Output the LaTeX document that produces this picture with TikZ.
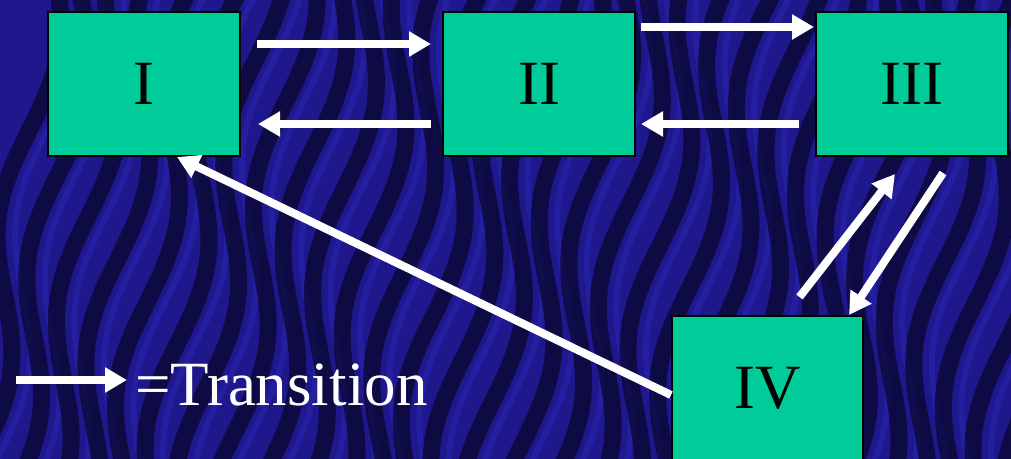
\documentclass[tikz,border=0pt]{standalone}
\usepackage{fontspec}
\setmainfont{Liberation Serif}
\usetikzlibrary{arrows.meta,calc}
\definecolor{boxgreen}{RGB}{0,204,153}
\definecolor{bgblue}{RGB}{30,24,140}
\definecolor{bgdark}{RGB}{3,2,20}
\definecolor{bglight}{RGB}{50,42,200}
\tikzset{
  statebox/.style={draw=black, line width=2pt, fill=boxgreen, minimum width=192pt, minimum height=144pt, inner sep=0pt, font=\fontsize{63}{70}\selectfont},
  trans/.style={draw=white, line width=8pt, -{Triangle[width=24pt,length=22pt]}},
  wave/.style={draw=bgdark, line width=17pt, opacity=0.6, line cap=round},
  glow/.style={draw=bglight, line width=6pt, opacity=0.35, line cap=round}
}
\begin{document}
\begin{tikzpicture}[x=1pt,y=1pt]
\useasboundingbox (0,0) rectangle (1011,458);
\clip (0,0) rectangle (1011,458);
% background texture
\fill[bgblue] (-10,-10) rectangle (1021,468);
\foreach \i in {0,...,30}{
  \draw[wave] plot[smooth, domain=-20:480, samples=25] ({\i*36 - 20 + 18*sin(\x*1.1 + \i*47) + 0.15*\x}, \x);
  \draw[glow] plot[smooth, domain=-20:480, samples=25] ({\i*36 - 2 + 18*sin(\x*1.1 + \i*47) + 0.15*\x}, \x);
}
% states
\node[statebox] (I)   at (144,374)   {I};
\node[statebox] (II)  at (539,374)   {II};
\node[statebox] (III) at (912,374)   {III};
\node[statebox, minimum width=191pt] (IV)  at (767.5,70) {IV};
% transitions
\draw[trans] ($(I.east)+(16,40)$)   -- ($(II.west)+(-11,40)$);
\draw[trans] ($(II.west)+(-11,-40)$) -- ($(I.east)+(17,-40)$);
\draw[trans] ($(II.east)+(5,57)$)   -- ($(III.west)+(-1,57)$);
\draw[trans] ($(III.west)+(-16,-40)$) -- ($(II.east)+(5,-40)$);
\draw[trans] ($(IV.north)+(32,18)$) -- ($(III.south)+(-17,-17)$);
\draw[trans] ($(III.south)+(31,-16)$) -- ($(IV.north east)+(-15,0)$);
\draw[trans] ($(IV.west)+(0,-7)$) -- ($(I.south)+(33,0)$);
% legend
\coordinate (legA) at (16,78);
\node[anchor=base west, text=white, inner sep=0pt, font=\fontsize{63}{70}\selectfont] (leg) at (135,53) {=Transition};
\draw[trans] (legA) -- ([xshift=-8pt]legA -| leg.west);
\end{tikzpicture}
\end{document}
